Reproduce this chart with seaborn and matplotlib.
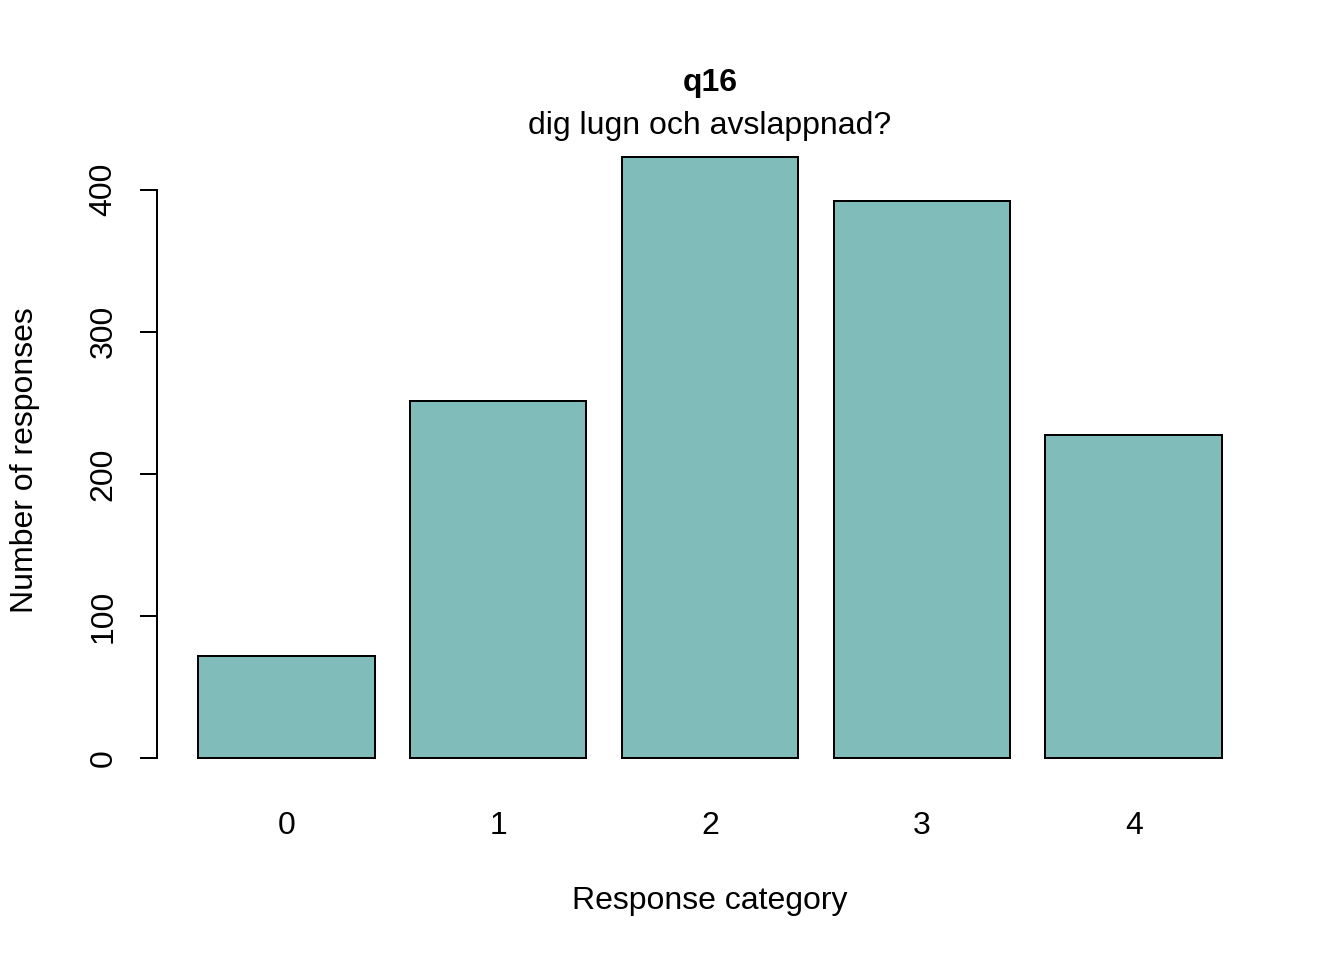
import matplotlib
matplotlib.use("Agg")
import matplotlib.pyplot as plt
import seaborn as sns
import pandas as pd

categories = ["0", "1", "2", "3", "4"]
counts = [72, 251, 423, 392, 227]
y_ticks = [0, 100, 200, 300, 400]

df = pd.DataFrame({"category": categories, "count": counts})

sns.set_style("white")
plt.rcParams['font.family'] = ['Liberation Sans', 'DejaVu Sans']
plt.rcParams['text.color'] = 'black'
plt.rcParams['xtick.color'] = 'black'
plt.rcParams['ytick.color'] = 'black'

W, H = 1344, 960
fig = plt.figure(figsize=(7, 5), dpi=192)
ax = fig.add_axes([157 / W, 1 - 782 / H, (1263 - 157) / W, (782 - 133) / H])

sns.barplot(x="category", y="count", data=df, color="#80BCBA", saturation=1,
            width=1 / 1.2, edgecolor="black", linewidth=0.75, ax=ax)

# R-style axis extents: 4% padding around the data range
ax.set_xlim(-0.5 / 1.2 - 0.232 / 1.2, 4 + 0.5 / 1.2 + 0.232 / 1.2)
ax.set_ylim(-423 * 0.04, 423 * 1.04)
for s in ["top", "right", "bottom"]:
    ax.spines[s].set_visible(False)
ax.spines["left"].set_bounds(0, 400)
ax.spines["left"].set_linewidth(0.75)
ax.spines["left"].set_color("black")
ax.set_yticks(y_ticks)
ax.set_yticklabels([str(v) for v in y_ticks], rotation=90, va="center")
ax.tick_params(axis="y", left=True, length=6.4, width=0.75, pad=8, labelsize=12,
               labelcolor="black")
ax.tick_params(axis="x", bottom=False, length=0, pad=11, labelsize=12, labelcolor="black")
ax.set_xlabel("")
ax.set_ylabel("")

fig.text(710 / W, 1 - 901 / H, "Response category", ha="center", va="center", fontsize=12)
fig.text(25 / W, 1 - 460 / H, "Number of responses", ha="center", va="center",
         rotation=90, fontsize=12)
fig.text(710 / W, 1 - 83 / H, "q16", ha="center", va="center", fontsize=12, fontweight="bold")
fig.text(710 / W, 1 - 126 / H, "dig lugn och avslappnad?", ha="center", va="center", fontsize=12)

fig.savefig("out.png", dpi=192, facecolor="white")
